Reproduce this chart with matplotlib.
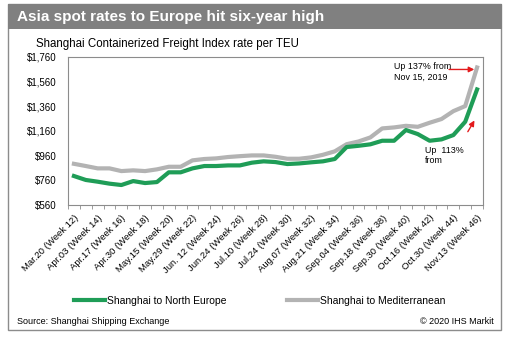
import matplotlib
matplotlib.use('Agg')
import matplotlib.pyplot as plt
from matplotlib.patches import Rectangle

plt.rcParams['font.family'] = ['Liberation Sans', 'DejaVu Sans']

# weekly SCFI rate per TEU, week 12 to week 46 of 2020
weeks = list(range(12, 47))
north_europe = [795, 763, 749, 733, 722, 754, 738, 746, 825, 825, 857, 876,
                876, 881, 881, 903, 914, 908, 892, 897, 906, 914, 933, 1030,
                1040, 1052, 1081, 1081, 1168, 1135, 1081, 1092, 1127, 1235, 1497]
mediterranean = [894, 876, 857, 857, 835, 841, 835, 849, 870, 870, 922, 933,
                 938, 949, 956, 962, 962, 951, 935, 935, 946, 967, 995, 1053,
                 1075, 1108, 1181, 1189, 1202, 1194, 1227, 1257, 1321, 1362, 1675]
tick_labels = ['Mar.20 (Week 12)', 'Apr.03 (Week 14)', 'Apr.17 (Week 16)',
               'Apr.30 (Week 18)', 'May.15 (Week 20)', 'May.29 (Week 22)',
               'Jun. 12 (Week 24)', 'Jun.24 (Week 26)', 'Jul.10 (Week 28)',
               'Jul.24 (Week 30)', 'Aug.07 (Week 32)', 'Aug.21 (Week 34)',
               'Sep.04 (Week 36)', 'Sep.18 (Week 38)', 'Sep.30 (Week 40)',
               'Oct.16 (Week 42)', 'Oct.30 (Week 44)', 'Nov.13 (Week 46)']
y_ticks = [560, 760, 960, 1160, 1360, 1560, 1760]

W, H = 510, 339
fig = plt.figure(figsize=(W / 100, H / 100), dpi=100)

def fx(px):
    return px / W

def fy(py):
    return 1 - py / H

# outer box and header band
fig.add_artist(Rectangle((fx(8), fy(330)), fx(493), (330 - 4) / H, transform=fig.transFigure,
                         facecolor='white', edgecolor='#8c8c8c', lw=1, zorder=-2))
fig.add_artist(Rectangle((fx(8), fy(29)), fx(494), 25 / H, transform=fig.transFigure,
                         facecolor='#808080', edgecolor='none', zorder=-1))
fig.text(fx(17), fy(16.5), 'Asia spot rates to Europe hit six-year high', color='white',
         fontsize=11, fontweight='bold', va='center', ha='left')
fig.text(fx(36), fy(44), 'Shanghai Containerized Freight Index rate per TEU',
         fontsize=8.3, va='center', ha='left')

ax = fig.add_axes([fx(68), fy(205), fx(483 - 68), (205 - 57) / H])
ax.patch.set_alpha(0)
x = list(range(len(weeks)))
l_med, = ax.plot(x, mediterranean, color='#b3b3b3', lw=3, label='Shanghai to Mediterranean',
                 solid_joinstyle='round')
l_ne, = ax.plot(x, north_europe, color='#1f9d57', lw=3, label='Shanghai to North Europe',
                solid_joinstyle='round')

ax.set_xlim(-0.5, len(weeks) - 0.5)
ax.set_ylim(560, 1760)
ax.set_yticks(y_ticks)
ax.set_yticklabels(['${:,}'.format(v) for v in y_ticks], fontsize=7)
ax.tick_params(axis='y', length=0, pad=8)
ax.set_xticks(x[::2])
ax.set_xticklabels(tick_labels, rotation=45, ha='right', rotation_mode='anchor', fontsize=6.8)
ax.tick_params(axis='x', length=0, pad=6)
ax.set_xticks([i - 0.5 for i in range(len(weeks) + 1)], minor=True)
ax.tick_params(axis='x', which='minor', length=3, color='#8c8c8c', direction='out')
for s in ax.spines.values():
    s.set_color('#8c8c8c')
    s.set_linewidth(0.8)

# annotations
ax.text(27.0, 1640, 'Up 137% from\nNov 15, 2019', fontsize=6.4, va='center', ha='left',
        linespacing=1.15)
ax.annotate('', xy=(34, 1659), xytext=(31.4, 1659),
            arrowprops=dict(arrowstyle='-|>', color='#e31a1c', lw=1, mutation_scale=8))
ax.text(29.6, 1035, 'Up  113%\nfrom', fontsize=6.4, va='top', ha='left', linespacing=1.15)
ax.annotate('', xy=(33.9, 1265), xytext=(33.1, 1135),
            arrowprops=dict(arrowstyle='-|>', color='#e31a1c', lw=1, mutation_scale=8))

# legend below, one entry each
for line, px in [(l_ne, 74), (l_med, 287)]:
    fig.legend(handles=[line], loc='center left', bbox_to_anchor=(fx(px), fy(301)),
               frameon=False, fontsize=7.5, handlelength=3, handletextpad=0.2,
               borderpad=0, borderaxespad=0)

fig.text(fx(17), fy(321), 'Source: Shanghai Shipping Exchange', fontsize=6.5, va='center')
fig.text(fx(494), fy(321), '\u00a9 2020 IHS Markit', fontsize=6.5, va='center', ha='right')

fig.savefig('out.png', dpi=100)
